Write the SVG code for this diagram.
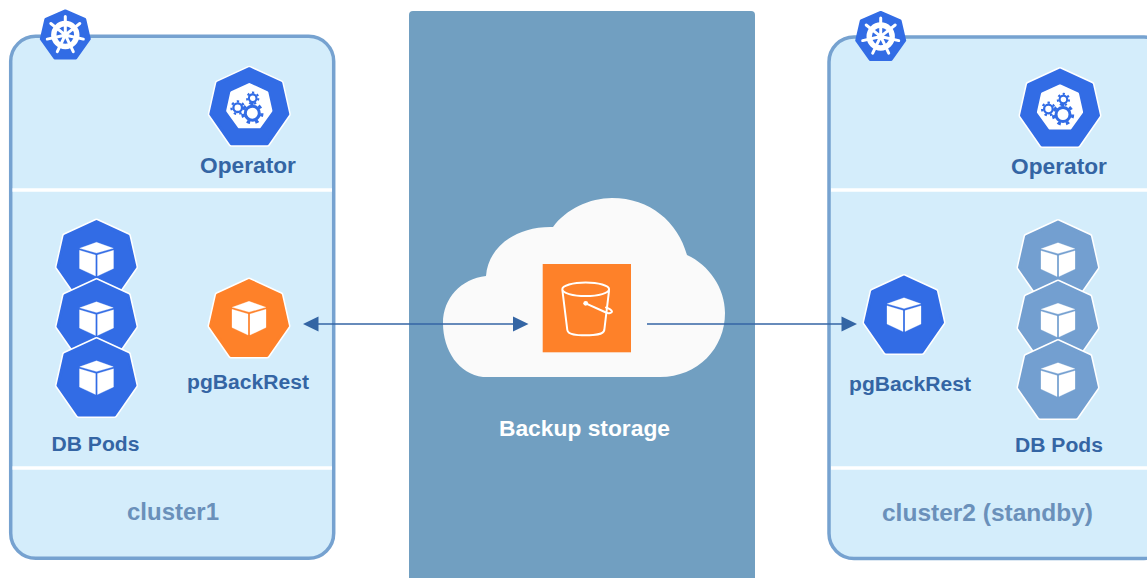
<svg xmlns="http://www.w3.org/2000/svg" width="1147" height="578" viewBox="0 0 1147 578">
<style>
text{font-family:"Liberation Sans",Arial,sans-serif;font-weight:700;text-anchor:middle}
.lbl{fill:#3465a4;font-size:21.1px}
.op{font-size:22.7px}
.cl{fill:#6a90ba;font-size:24px}
.cl2{font-size:24.5px}
.panel{fill:#d4edfb;stroke:#76a2d0;stroke-width:3.5}
.div{stroke:#fff;stroke-width:3.5}
.blue{fill:#326ce5;color:#326ce5}.orange{fill:#fe8129;color:#fe8129}.mute{fill:#739fd0;color:#739fd0}
.conn{stroke:#3465a4;stroke-width:1.3;fill:none}
.head{fill:#3465a4}
</style>
<defs>
<polygon id="heptOuter" points="0,2 31.5,16.5 38.5,47.5 18,77 -18,77 -38.5,47.5 -31.5,16.5" fill="#fff" stroke="#fff" stroke-width="6" stroke-linejoin="round"/>
<polygon id="heptInner" points="0,2 31.5,16.5 38.5,47.5 18,77 -18,77 -38.5,47.5 -31.5,16.5" stroke="currentColor" stroke-width="3" stroke-linejoin="round"/>
<g id="cube" fill="#fff" stroke="#fff" stroke-width=".3" stroke-linejoin="round">
<polygon points="0,22.8 16.8,28.8 0,33.6 -16.8,28.8"/>
<polygon points="-17,30.8 -1,35.5 -1,56.5 -17,49"/>
<polygon points="17,30.8 1,35.5 1,56.5 17,49"/>
</g>
<g id="pod"><use href="#heptOuter"/><use href="#heptInner"/><use href="#cube"/></g>
<g id="operator">
<use href="#heptOuter"/><use href="#heptInner"/>
<polygon points="0,18 17.5,26 21.5,44 10,60 -10,60 -21.5,44 -17.5,26" fill="#fff" stroke="#fff" stroke-width="3.2" stroke-linejoin="round"/>
<g fill="none" stroke="#326ce5">
<circle cx="3" cy="46.5" r="7" stroke-width="3"/>
<circle cx="3" cy="46.5" r="9.6" stroke-width="3.2" stroke-dasharray="3.4 5.2"/>
<circle cx="-11.6" cy="41" r="4.3" stroke-width="2.3"/>
<circle cx="-11.6" cy="41" r="6.3" stroke-width="2.2" stroke-dasharray="2.4 3.2"/>
<circle cx="3.4" cy="31.5" r="3.8" stroke-width="2.1"/>
<circle cx="3.4" cy="31.5" r="5.6" stroke-width="2.1" stroke-dasharray="2.2 2.8"/>
</g>
</g>
<g id="k8s">
<polygon points="0,1.5 19.5,10 24,29.5 10.5,48.5 -10.5,48.5 -24,29.5 -19.5,10" fill="#326ce5" stroke="#326ce5" stroke-width="3" stroke-linejoin="round"/>
<g transform="translate(0,25.5)" fill="none" stroke="#fff">
<circle r="11.5" stroke-width="5.4"/>
<circle r="3" fill="#fff" stroke="none"/>
<g stroke-width="3" stroke-linecap="round">
<path d="M0,-3V-18.5M2.3,-1.9L14.5,-11.5M3,.7L18,4.1M1.3,2.7L8,16.6M-1.3,2.7L-8,16.6M-3,.7L-18,4.1M-2.3,-1.9L-14.5,-11.5"/>
</g>
</g>
</g>
</defs>

<rect id="page" width="1147" height="578" fill="#fff"/>

<g id="cluster1">
<rect class="panel" x="10.7" y="36.3" width="323" height="522" rx="25"/>
<line class="div" x1="12.5" y1="190" x2="332" y2="190"/>
<line class="div" x1="12.5" y1="468" x2="332" y2="468"/>
<text class="cl" x="173" y="520">cluster1</text>
</g>
<g id="k8s1"><use href="#k8s" x="65.3" y="9.5"/></g>
<g id="operator1" class="blue"><use href="#operator" x="249.3" y="66.7"/><text class="lbl op" x="248" y="173">Operator</text></g>
<g id="dbpods1" class="blue">
<use href="#pod" x="96.5" y="219.5"/>
<use href="#pod" x="96.5" y="279"/>
<use href="#pod" x="96.5" y="338"/>
<text class="lbl" x="95.5" y="451">DB Pods</text>
</g>
<g id="pgbackrest1" class="orange"><use href="#pod" x="249" y="278.5"/><text class="lbl" x="248" y="389">pgBackRest</text></g>

<g id="storage">
<path d="M409,15a4,4 0 0 1 4,-4H751a4,4 0 0 1 4,4V578H409Z" fill="#719fc1"/>
<path d="M483,377C459,374 443,351 443,323C443,298 461,279 486,276C488,247 516,226 553,227C566,209 590,198 612,198C650,198 678,222 687,255C709,265 725,288 725,313C725,348 698,377 660,377Z" fill="#fafafa"/>
<rect x="542.7" y="264" width="88.3" height="88.3" fill="#fe8129"/>
<g fill="none" stroke="#fff" stroke-width="2" stroke-linecap="round" stroke-linejoin="round">
<ellipse cx="585.7" cy="289.3" rx="23.4" ry="6.8"/>
<path d="M562.5,291L567.3,330C568,335 577,335.3 585.7,335.3C594,335.3 603.5,335 604.3,330L609,291"/>
<path d="M585.7,303.3L606,312.5C609,314 612,312.5 612,311.5C612,310 608,308 606,307.5"/>
</g>
<circle cx="585.7" cy="303.3" r="2.4" fill="#fff"/>
<text x="584.5" y="436" font-size="22.8" fill="#fff">Backup storage</text>
</g>

<g id="cluster2">
<rect class="panel" x="829" y="37" width="340" height="521.5" rx="25"/>
<line class="div" x1="831" y1="190" x2="1147" y2="190"/>
<line class="div" x1="831" y1="468" x2="1147" y2="468"/>
<text class="cl cl2" x="987.5" y="521">cluster2 (standby)</text>
</g>
<g id="k8s2"><use href="#k8s" x="880.7" y="11"/></g>
<g id="operator2" class="blue"><use href="#operator" x="1060" y="68"/><text class="lbl op" x="1059" y="174">Operator</text></g>
<g id="pgbackrest2" class="blue"><use href="#pod" x="904" y="275"/><text class="lbl" x="910" y="391">pgBackRest</text></g>
<g id="dbpods2" class="mute">
<use href="#pod" x="1058" y="220"/>
<use href="#pod" x="1058" y="280.5"/>
<use href="#pod" x="1058" y="340"/>
<text class="lbl" x="1059" y="452">DB Pods</text>
</g>

<g id="connectors">
<line class="conn" x1="316" y1="324" x2="515" y2="324"/>
<polygon class="head" points="303,324 318.5,316.5 318.5,331.5"/>
<polygon class="head" points="528.5,324 513,316.5 513,331.5"/>
<line class="conn" x1="647" y1="324" x2="843" y2="324"/>
<polygon class="head" points="857,324 841.5,316.5 841.5,331.5"/>
</g>
</svg>
